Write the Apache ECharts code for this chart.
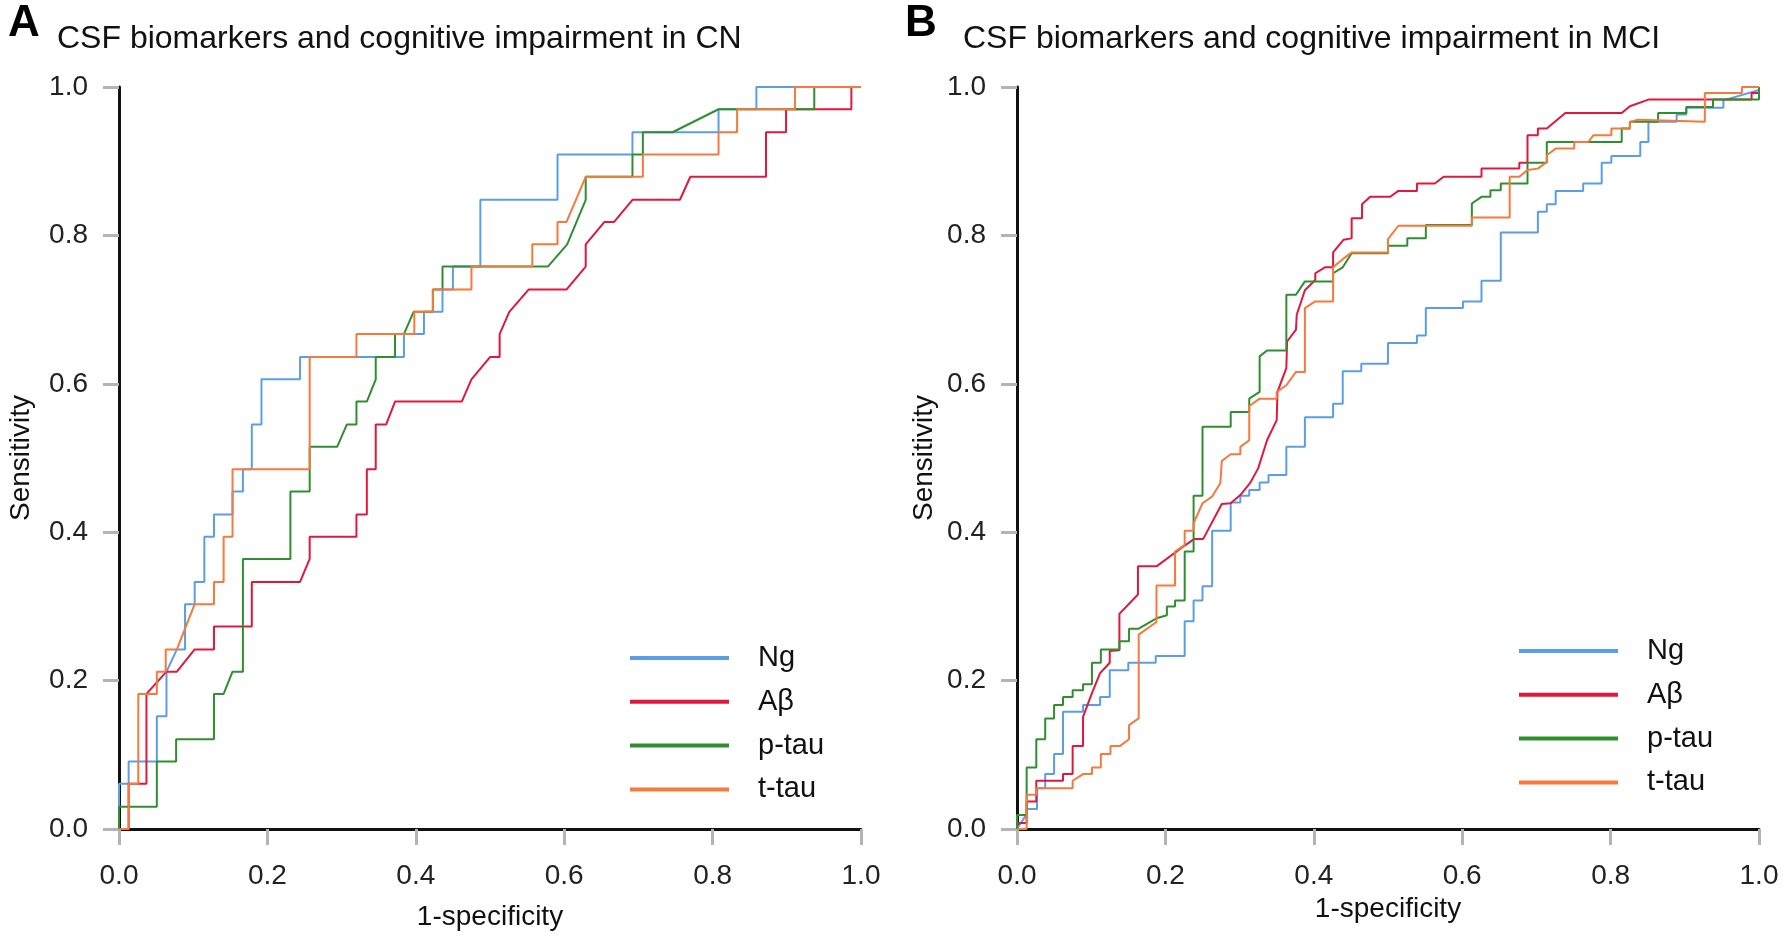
<!DOCTYPE html>
<html>
<head>
<meta charset="utf-8">
<script src="https://cdn.jsdelivr.net/npm/echarts@6/dist/echarts.min.js"></script>
<style>
html,body{margin:0;padding:0;background:#fff;}
#chart{width:1785px;height:941px;}
</style>
</head>
<body>
<div id="chart"></div>
<script>
// ---------- data ----------
const seriesNames = ['Ng', 'Aβ', 'p-tau', 't-tau'];
const tickLabels = ['0.0', '0.2', '0.4', '0.6', '0.8', '1.0'];
const panelTitles = ['CSF biomarkers and cognitive impairment in CN', 'CSF biomarkers and cognitive impairment in MCI'];
const panelLetters = ['A', 'B'];
const xAxisName = '1-specificity';
const yAxisName = 'Sensitivity';

// Panel A (CN): [1-specificity, sensitivity]
const cnNg = [[0,0],[0,0.061],[0.013,0.061],[0.013,0.091],[0.051,0.091],[0.051,0.152],[0.064,0.152],[0.064,0.212],[0.078,0.242],[0.089,0.242],[0.089,0.303],[0.102,0.303],[0.102,0.333],[0.115,0.333],[0.115,0.394],[0.128,0.394],[0.128,0.424],[0.153,0.424],[0.153,0.455],[0.167,0.455],[0.167,0.485],[0.179,0.485],[0.179,0.545],[0.192,0.545],[0.192,0.606],[0.244,0.606],[0.244,0.636],[0.384,0.636],[0.384,0.667],[0.411,0.667],[0.411,0.697],[0.436,0.697],[0.436,0.727],[0.450,0.727],[0.450,0.758],[0.487,0.758],[0.487,0.848],[0.591,0.848],[0.591,0.909],[0.692,0.909],[0.692,0.939],[0.808,0.939],[0.808,0.970],[0.859,0.970],[0.859,1.0],[1,1]];
const cnAb = [[0,0],[0.013,0],[0.013,0.061],[0.037,0.061],[0.037,0.182],[0.064,0.212],[0.078,0.212],[0.102,0.242],[0.128,0.242],[0.128,0.273],[0.179,0.273],[0.179,0.333],[0.244,0.333],[0.257,0.364],[0.257,0.394],[0.320,0.394],[0.320,0.424],[0.334,0.424],[0.334,0.485],[0.346,0.485],[0.346,0.545],[0.360,0.545],[0.372,0.576],[0.462,0.576],[0.475,0.606],[0.500,0.636],[0.513,0.636],[0.513,0.667],[0.526,0.697],[0.552,0.727],[0.603,0.727],[0.629,0.758],[0.629,0.788],[0.654,0.818],[0.667,0.818],[0.692,0.848],[0.756,0.848],[0.770,0.879],[0.872,0.879],[0.872,0.939],[0.899,0.939],[0.899,0.970],[0.987,0.970],[0.987,1.0],[1,1]];
const cnPtau = [[0,0],[0,0.030],[0.051,0.030],[0.051,0.091],[0.077,0.091],[0.077,0.121],[0.128,0.121],[0.128,0.182],[0.141,0.182],[0.153,0.212],[0.167,0.212],[0.167,0.364],[0.231,0.364],[0.231,0.455],[0.257,0.455],[0.257,0.515],[0.294,0.515],[0.307,0.545],[0.320,0.545],[0.320,0.576],[0.334,0.576],[0.346,0.606],[0.346,0.636],[0.372,0.636],[0.372,0.667],[0.384,0.667],[0.397,0.697],[0.423,0.697],[0.423,0.727],[0.436,0.727],[0.436,0.758],[0.578,0.758],[0.604,0.788],[0.629,0.848],[0.629,0.879],[0.692,0.879],[0.692,0.909],[0.706,0.909],[0.706,0.939],[0.746,0.939],[0.808,0.970],[0.937,0.970],[0.937,1.0],[1,1]];
const cnTtau = [[0,0],[0.013,0],[0.013,0.061],[0.026,0.061],[0.026,0.182],[0.051,0.182],[0.051,0.212],[0.063,0.212],[0.063,0.242],[0.078,0.242],[0.102,0.303],[0.128,0.303],[0.128,0.333],[0.141,0.333],[0.141,0.394],[0.153,0.394],[0.153,0.485],[0.257,0.485],[0.257,0.636],[0.320,0.636],[0.320,0.667],[0.398,0.667],[0.398,0.697],[0.423,0.697],[0.423,0.727],[0.475,0.727],[0.475,0.758],[0.557,0.758],[0.557,0.788],[0.591,0.788],[0.591,0.818],[0.603,0.818],[0.629,0.879],[0.706,0.879],[0.706,0.909],[0.808,0.909],[0.808,0.939],[0.833,0.939],[0.833,0.970],[0.911,0.970],[0.911,1.0],[1,1]];

// Panel B (MCI)
const mciNg = [[0,0],[0.013,0.020],[0.013,0.027],[0.027,0.027],[0.027,0.055],[0.038,0.055],[0.038,0.074],[0.050,0.074],[0.050,0.101],[0.062,0.101],[0.062,0.158],[0.089,0.158],[0.089,0.167],[0.112,0.167],[0.112,0.178],[0.125,0.178],[0.125,0.214],[0.150,0.214],[0.150,0.224],[0.187,0.224],[0.187,0.233],[0.226,0.233],[0.226,0.280],[0.238,0.280],[0.238,0.308],[0.250,0.308],[0.250,0.327],[0.263,0.327],[0.263,0.402],[0.288,0.402],[0.288,0.440],[0.301,0.440],[0.301,0.449],[0.313,0.449],[0.313,0.457],[0.327,0.457],[0.327,0.467],[0.339,0.467],[0.339,0.477],[0.363,0.477],[0.363,0.515],[0.388,0.515],[0.388,0.555],[0.426,0.555],[0.426,0.573],[0.439,0.573],[0.439,0.617],[0.464,0.617],[0.464,0.627],[0.500,0.627],[0.500,0.655],[0.539,0.655],[0.539,0.665],[0.551,0.665],[0.551,0.702],[0.601,0.702],[0.601,0.711],[0.626,0.711],[0.626,0.739],[0.652,0.739],[0.652,0.804],[0.702,0.804],[0.702,0.832],[0.714,0.832],[0.714,0.842],[0.726,0.842],[0.726,0.860],[0.763,0.860],[0.763,0.870],[0.788,0.870],[0.788,0.898],[0.801,0.898],[0.801,0.907],[0.840,0.907],[0.840,0.926],[0.851,0.926],[0.851,0.953],[0.889,0.953],[0.889,0.963],[0.902,0.963],[0.902,0.972],[0.952,0.972],[0.952,0.982],[1.0,0.996],[1,1]];
const mciAb = [[0,0],[0,0.008],[0.013,0.008],[0.013,0.037],[0.026,0.037],[0.026,0.065],[0.062,0.065],[0.062,0.074],[0.075,0.074],[0.075,0.112],[0.089,0.112],[0.089,0.151],[0.101,0.183],[0.112,0.210],[0.125,0.224],[0.125,0.240],[0.138,0.241],[0.138,0.290],[0.163,0.316],[0.163,0.354],[0.188,0.354],[0.226,0.382],[0.239,0.391],[0.251,0.391],[0.276,0.438],[0.288,0.439],[0.301,0.450],[0.314,0.466],[0.325,0.486],[0.337,0.524],[0.350,0.551],[0.351,0.589],[0.363,0.621],[0.364,0.657],[0.376,0.673],[0.377,0.693],[0.388,0.726],[0.402,0.740],[0.402,0.749],[0.415,0.757],[0.426,0.757],[0.426,0.777],[0.440,0.794],[0.451,0.796],[0.451,0.823],[0.465,0.823],[0.465,0.842],[0.476,0.852],[0.503,0.852],[0.514,0.860],[0.539,0.860],[0.539,0.870],[0.563,0.870],[0.575,0.879],[0.626,0.879],[0.626,0.890],[0.677,0.890],[0.677,0.898],[0.688,0.898],[0.688,0.935],[0.702,0.935],[0.702,0.944],[0.714,0.944],[0.739,0.965],[0.815,0.965],[0.826,0.974],[0.851,0.983],[0.990,0.983],[0.990,0.992],[1.0,0.992],[1,1]];
const mciPtau = [[0,0],[0,0.019],[0.013,0.019],[0.013,0.083],[0.026,0.083],[0.026,0.121],[0.038,0.121],[0.038,0.149],[0.050,0.149],[0.050,0.167],[0.062,0.167],[0.062,0.178],[0.075,0.178],[0.075,0.187],[0.089,0.187],[0.089,0.195],[0.101,0.195],[0.101,0.224],[0.113,0.224],[0.113,0.242],[0.138,0.242],[0.138,0.253],[0.151,0.253],[0.151,0.270],[0.164,0.270],[0.188,0.284],[0.202,0.288],[0.202,0.300],[0.213,0.300],[0.213,0.308],[0.226,0.308],[0.226,0.374],[0.238,0.374],[0.238,0.449],[0.250,0.449],[0.250,0.542],[0.288,0.542],[0.288,0.562],[0.313,0.562],[0.313,0.580],[0.327,0.589],[0.327,0.637],[0.337,0.645],[0.363,0.645],[0.363,0.720],[0.376,0.720],[0.388,0.738],[0.426,0.738],[0.426,0.749],[0.439,0.757],[0.451,0.776],[0.500,0.776],[0.500,0.786],[0.526,0.786],[0.526,0.796],[0.551,0.796],[0.551,0.814],[0.613,0.814],[0.613,0.843],[0.626,0.852],[0.638,0.852],[0.638,0.861],[0.652,0.861],[0.652,0.870],[0.688,0.870],[0.688,0.898],[0.714,0.898],[0.714,0.926],[0.815,0.926],[0.815,0.944],[0.826,0.944],[0.826,0.953],[0.864,0.953],[0.864,0.965],[0.902,0.965],[0.902,0.973],[0.938,0.973],[0.938,0.983],[1.0,0.983],[1,1]];
const mciTtau = [[0,0],[0.013,0],[0.013,0.046],[0.026,0.046],[0.026,0.055],[0.075,0.055],[0.075,0.065],[0.089,0.074],[0.101,0.074],[0.101,0.083],[0.113,0.083],[0.113,0.101],[0.126,0.101],[0.126,0.112],[0.139,0.112],[0.151,0.121],[0.151,0.140],[0.164,0.149],[0.164,0.262],[0.188,0.279],[0.188,0.328],[0.213,0.328],[0.213,0.374],[0.226,0.383],[0.226,0.402],[0.238,0.402],[0.238,0.412],[0.250,0.439],[0.263,0.448],[0.274,0.466],[0.276,0.496],[0.288,0.505],[0.301,0.505],[0.301,0.515],[0.313,0.524],[0.313,0.570],[0.327,0.580],[0.350,0.580],[0.350,0.589],[0.363,0.598],[0.376,0.616],[0.388,0.616],[0.388,0.702],[0.402,0.711],[0.426,0.711],[0.426,0.757],[0.439,0.768],[0.451,0.777],[0.500,0.777],[0.500,0.795],[0.514,0.813],[0.613,0.813],[0.613,0.824],[0.664,0.824],[0.664,0.879],[0.677,0.879],[0.688,0.888],[0.702,0.890],[0.714,0.899],[0.714,0.908],[0.726,0.917],[0.751,0.917],[0.751,0.926],[0.770,0.926],[0.777,0.935],[0.801,0.935],[0.801,0.944],[0.826,0.944],[0.826,0.953],[0.837,0.956],[0.927,0.953],[0.927,0.992],[0.977,0.992],[0.977,1.0],[1,1]];

const colors = ['#5b9ee8', '#e3173e', '#2f8f2f', '#f7793b'];
const panelData = [[cnNg, cnAb, cnPtau, cnTtau], [mciNg, mciAb, mciPtau, mciTtau]];

// ---------- chart ----------
const FONT = '"Liberation Sans", Arial, sans-serif';
const chart = echarts.init(document.getElementById('chart'), null, {renderer: 'canvas'});

function makeXAxis(i, nameGap) {
  return {
    type: 'value', gridIndex: i, min: 0, max: 1, interval: 0.2,
    name: xAxisName, nameLocation: 'middle', nameGap: nameGap,
    nameTextStyle: {fontFamily: FONT, fontSize: 28, color: '#111'},
    axisLine: {show: true, onZero: false, lineStyle: {color: '#111', width: 3}},
    axisTick: {show: true, length: 16, lineStyle: {color: '#b4b4b4', width: 3}},
    axisLabel: {margin: 33, fontFamily: FONT, fontSize: 28, color: '#222',
      formatter: v => tickLabels[Math.round(v / 0.2)]},
    splitLine: {show: false}
  };
}
function makeYAxis(i, nameGap) {
  return {
    type: 'value', gridIndex: i, min: 0, max: 1, interval: 0.2,
    name: yAxisName, nameLocation: 'middle', nameGap: nameGap, nameRotate: 90,
    nameTextStyle: {fontFamily: FONT, fontSize: 28, color: '#111'},
    axisLine: {show: true, onZero: false, lineStyle: {color: '#111', width: 3}},
    axisTick: {show: true, length: 16, lineStyle: {color: '#b4b4b4', width: 3}},
    axisLabel: {margin: 31, fontFamily: FONT, fontSize: 28, color: '#222',
      formatter: v => tickLabels[Math.round(v / 0.2)]},
    splitLine: {show: false}
  };
}

const series = [];
panelData.forEach((arrs, p) => {
  arrs.forEach((d, s) => {
    series.push({
      name: seriesNames[s], type: 'line', xAxisIndex: p, yAxisIndex: p,
      data: d, symbol: 'none', smooth: false, clip: false,
      color: colors[s],
      lineStyle: {color: colors[s], width: 2},
      emphasis: {disabled: true},
      z: 2 + s
    });
  });
});

function makeLegend(left, top) {
  return {
    orient: 'vertical', left: left, top: top, padding: 0,
    itemWidth: 99, itemHeight: 4, itemGap: 13.8, icon: 'rect',
    selectedMode: false,
    data: seriesNames,
    textStyle: {fontFamily: FONT, fontSize: 29, color: '#111', lineHeight: 30, padding: [0, 0, 0, 24]}
  };
}

const option = {
  backgroundColor: '#fff',
  animation: false,
  title: [
    {text: panelLetters[0], left: 8, top: 2, padding: 0, textStyle: {fontFamily: FONT, fontSize: 44, fontWeight: 'bold', color: '#000'}},
    {text: panelTitles[0], left: 57, top: 23, padding: 0, textStyle: {fontFamily: FONT, fontSize: 32, fontWeight: 'normal', color: '#111'}},
    {text: panelLetters[1], left: 905, top: 2, padding: 0, textStyle: {fontFamily: FONT, fontSize: 44, fontWeight: 'bold', color: '#000'}},
    {text: panelTitles[1], left: 963, top: 23, padding: 0, textStyle: {fontFamily: FONT, fontSize: 32, fontWeight: 'normal', color: '#111'}}
  ],
  grid: [
    {left: 119, right: 924, top: 87, bottom: 112},
    {left: 1017, right: 26, top: 87, bottom: 112}
  ],
  xAxis: [makeXAxis(0, 74), makeXAxis(1, 57)],
  yAxis: [makeYAxis(0, 84), makeYAxis(1, 79)],
  legend: [makeLegend(630, 643), makeLegend(1519, 636)],
  series: series
};
chart.setOption(option);
</script>
</body>
</html>
